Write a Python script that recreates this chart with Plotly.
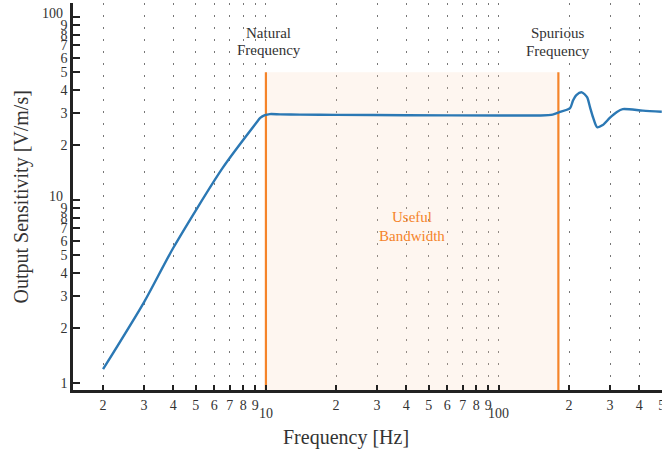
import math
import plotly.graph_objects as go

# ---- data ----
freq_hz = [2.0, 3.0, 4.0, 6.5, 9.15, 9.45, 9.9, 10.4, 11.5, 14, 20, 40, 100, 150, 170,
           183, 202, 208, 215, 227, 239, 246, 254, 264, 279, 299, 321, 340, 415, 500]
sensitivity = [1.19, 2.77, 5.47, 14.9, 26.7, 28.1, 29.1, 29.5, 29.4, 29.3, 29.2, 29.1, 29.0, 29.0, 29.3,
               30.3, 31.8, 35.0, 37.5, 38.8, 36.5, 32.2, 28.1, 25.0, 25.7, 28.1, 30.3, 31.4, 30.8, 30.4]

natural_freq = 10
spurious_freq = 180
band_top = 50

x_tickvals = [2, 3, 4, 5, 6, 7, 8, 9, 10, 20, 30, 40, 50, 60, 70, 80, 90, 100, 200, 300, 400, 500]
x_ticktext = ["2", "3", "4", "5", "6", "7", "8", "9", "", "2", "3", "4", "5", "6", "7", "8", "9", "",
              "2", "3", "4", "5"]
y_tickvals = [1, 2, 3, 4, 5, 6, 7, 8, 9, 10, 20, 30, 40, 50, 60, 70, 80, 90, 100]
y_ticktext = ["1", "2", "3", "4", "5", "6", "7", "8", "9", "", "2", "3", "4", "5", "6", "7", "8", "9", ""]
major_labels = [10, 100]

BLUE = "#2b78b4"
ORANGE = "#f5842a"
FONT = "Liberation Serif"
TXT = "#333"

fig = go.Figure()

# shaded useful band
fig.add_trace(go.Scatter(
    x=[natural_freq, natural_freq, spurious_freq, spurious_freq],
    y=[0.5, band_top, band_top, 0.5],
    fill="toself", fillcolor="rgba(250,215,185,0.22)",
    line=dict(width=0), mode="lines", hoverinfo="skip", showlegend=False))

for f in [natural_freq, spurious_freq]:
    fig.add_trace(go.Scatter(x=[f, f], y=[0.5, band_top], mode="lines",
                             line=dict(color=ORANGE, width=2.2), showlegend=False))

fig.add_trace(go.Scatter(x=freq_hz, y=sensitivity, mode="lines",
                         line=dict(color=BLUE, width=2.4, shape="spline", smoothing=0.7),
                         showlegend=False))

fig.update_layout(
    width=662, height=453,
    margin=dict(l=73, r=0, t=3, b=63, autoexpand=False),
    paper_bgcolor="white", plot_bgcolor="white",
    font=dict(family=FONT, size=14, color=TXT),
    xaxis=dict(type="log", range=[0.172, 2.700], automargin=False,
               tickvals=x_tickvals, ticktext=x_ticktext, ticklabeloverflow="allow",
               ticks="inside", ticklen=5, tickwidth=2, tickcolor="#222",
               showline=True, linecolor="#222", linewidth=2.5,
               showgrid=True, gridcolor="#777", gridwidth=1.3, griddash="2px,10px",
               zeroline=False, ticklabelstandoff=0,
               tickfont=dict(size=14, family=FONT, color=TXT)),
    yaxis=dict(type="log", range=[-0.038, 2.077], automargin=False,
               tickvals=y_tickvals, ticktext=y_ticktext, ticklabeloverflow="allow",
               ticks="inside", ticklen=7, tickwidth=2, tickcolor="#222",
               showline=True, linecolor="#222", linewidth=2.5,
               showgrid=False, zeroline=False, ticklabelstandoff=0,
               tickfont=dict(size=14, family=FONT, color=TXT)),
)

# axis titles
fig.add_annotation(x=0.463, y=-0.124, xref="paper", yref="paper", text="Frequency [Hz]",
                   showarrow=False, xanchor="center", yanchor="middle",
                   font=dict(size=20, family=FONT, color=TXT))
fig.add_annotation(x=-0.0866, y=0.50, xref="paper", yref="paper", text="Output Sensitivity [V/m/s]",
                   textangle=-90, showarrow=False, xanchor="center", yanchor="middle",
                   font=dict(size=20, family=FONT, color=TXT))

# major tick labels (offset as in reference)
for v in major_labels:
    fig.add_annotation(x=math.log10(v), y=0, xref="x", yref="paper", text=str(v),
                       showarrow=False, yanchor="top", yshift=-14,
                       font=dict(size=14, family=FONT, color=TXT))
    fig.add_annotation(x=0, y=math.log10(v), xref="paper", yref="y", text=str(v),
                       showarrow=False, xanchor="right", xshift=-8, yshift=4,
                       font=dict(size=14, family=FONT, color=TXT))

# text labels, one annotation per line
labels = [
    ("Natural", math.log10(natural_freq), 33, 3, TXT),
    ("Frequency", math.log10(natural_freq), 50, 3, TXT),
    ("Spurious", math.log10(spurious_freq), 33, 0, TXT),
    ("Frequency", math.log10(spurious_freq), 51, 0, TXT),
    ("Useful", math.log10(math.sqrt(natural_freq * spurious_freq)), 217, 0, ORANGE),
    ("Bandwidth", math.log10(math.sqrt(natural_freq * spurious_freq)), 236, 0, ORANGE),
]
for txt, xl, py, xs, col in labels:
    fig.add_annotation(x=xl, y=(390 - py) / 387, xref="x", yref="paper", text=txt,
                       showarrow=False, xshift=xs, yanchor="middle",
                       font=dict(size=15, family=FONT, color=col))

fig.write_html("out.html", config={"displayModeBar": False},
               post_script="document.body.style.margin='0';")
